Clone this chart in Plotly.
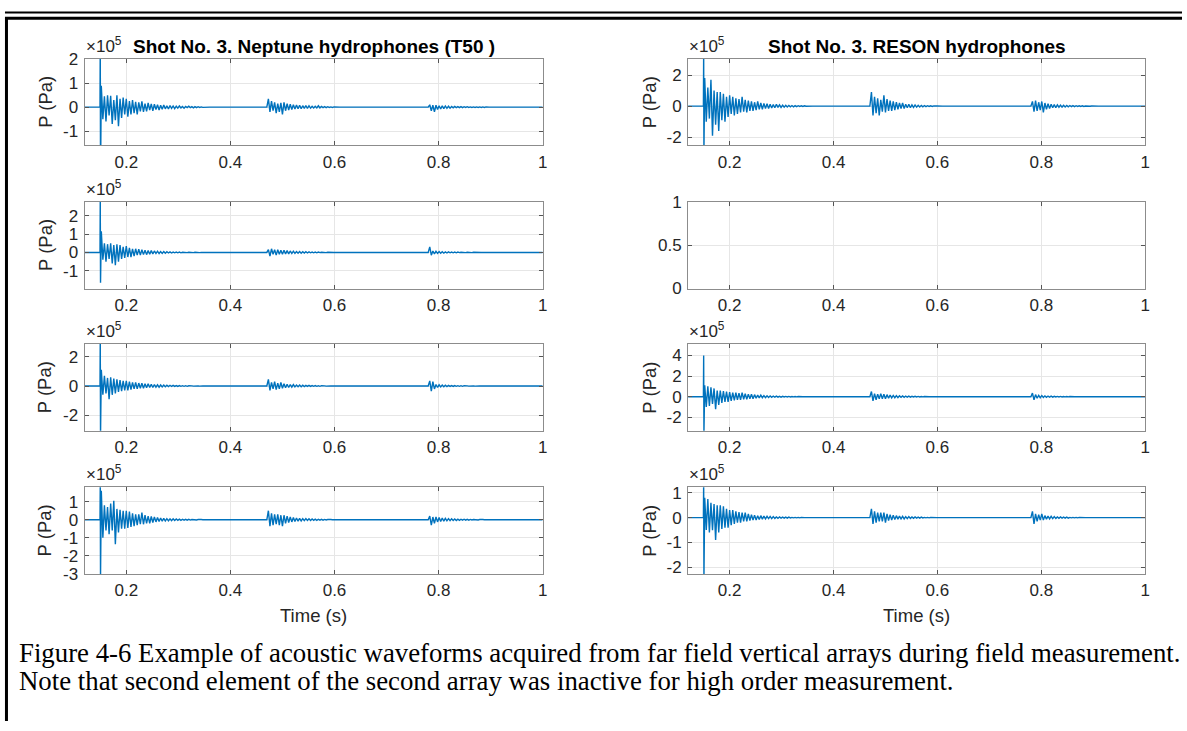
import plotly.graph_objects as go

W, H = 1187, 731

# ---------------- data (pressure in units of 1e5 Pa) ----------------
X_TICKS = [0.2, 0.4, 0.6, 0.8, 1.0]
X_TICK_LABELS = ["0.2", "0.4", "0.6", "0.8", "1"]
X_RANGE = [0.12, 1.0]

B1_START, B2_START, B3_START, DT = 0.152, 0.470, 0.780, 0.003

# Neptune hydrophone 1
L1_SPIKE = [3.0, -3.0]
L1_B1 = [0.9, -0.5, 0.45, -0.6, 0.5, -0.35, 0.48, -0.7, 0.3, -0.55,
         0.5, -0.8, 0.35, -0.45, 0.4, -0.3, 0.35, -0.4, 0.25, -0.3,
         0.3, -0.25, 0.22, -0.3, 0.2, -0.18, 0.24, -0.2, 0.15, -0.18,
         0.18, -0.12, 0.14, -0.15, 0.12, -0.1, 0.1, -0.12, 0.08, -0.09,
         0.09, -0.07, 0.06, -0.08, 0.07, -0.05, 0.05, -0.06, 0.04, -0.04,
         0.05, -0.03, 0.03, -0.04, 0.03, -0.02, 0.04, -0.02, 0.02, -0.03,
         0.02, -0.02, 0.02, -0.01, 0.01, -0.01]
L1_B2 = [0.0, 0.35, -0.2, 0.25, -0.15, 0.2, -0.25, 0.15, -0.2, 0.18,
         -0.3, 0.2, -0.15, 0.15, -0.12, 0.12, -0.1, 0.1, -0.08, 0.09,
         -0.07, 0.08, -0.06, 0.06, -0.05, 0.07, -0.05, 0.06, -0.04, 0.04,
         -0.03, 0.04, -0.03, 0.06, -0.03, 0.03, -0.02, 0.02, -0.02, 0.02,
         -0.01, 0.01, -0.01, 0.01]
L1_B3 = [0.0, 0.1, -0.15, 0.08, -0.2, 0.08, -0.1, 0.06, -0.08, 0.06,
         -0.06, 0.05, -0.05, 0.04, -0.04, 0.03, -0.03, 0.03, -0.02, 0.02,
         -0.02, 0.02, -0.02, 0.02, -0.01, 0.02, -0.01, 0.01, -0.01, 0.01,
         -0.01, 0.01, -0.01, 0.01, -0.01, 0.01, -0.01, 0.01, 0.0, 0.0]

# RESON hydrophone 1
R1_SPIKE = [3.5, -3.0]
R1_B1 = [1.8, -1.0, 1.2, -0.8, 1.7, -1.9, 1.0, -1.2, 0.9, -1.6,
         0.9, -0.9, 0.8, -1.0, 0.6, -0.7, 0.7, -0.5, 0.6, -0.6,
         0.5, -0.5, 0.45, -0.4, 0.6, -0.35, 0.4, -0.4, 0.35, -0.3,
         0.3, -0.3, 0.25, -0.25, 0.3, -0.2, 0.2, -0.2, 0.18, -0.15,
         0.15, -0.15, 0.12, -0.12, 0.1, -0.1, 0.12, -0.08, 0.08, -0.08,
         0.06, -0.06, 0.06, -0.05, 0.05, -0.04, 0.04, -0.04, 0.03, -0.03,
         0.03, -0.02, 0.02, -0.02, 0.02, -0.01]
R1_B2 = [0.0, 0.9, -0.6, 0.6, -0.45, 0.5, -0.6, 0.4, -0.35, 0.7,
         -0.4, 0.45, -0.3, 0.35, -0.3, 0.3, -0.25, 0.25, -0.2, 0.2,
         -0.15, 0.2, -0.15, 0.12, -0.1, 0.12, -0.1, 0.08, -0.08, 0.08,
         -0.06, 0.06, -0.05, 0.05, -0.04, 0.04, -0.03, 0.03, -0.02, 0.02,
         -0.02, 0.02, -0.01, 0.01]
R1_B3 = [0.0, 0.3, -0.35, 0.35, -0.3, 0.25, -0.25, 0.3, -0.4, 0.2,
         -0.2, 0.15, -0.15, 0.12, -0.1, 0.1, -0.1, 0.08, -0.07, 0.07,
         -0.06, 0.05, -0.05, 0.05, -0.04, 0.04, -0.03, 0.03, -0.03, 0.03,
         -0.02, 0.02, -0.02, 0.02, -0.02, 0.01, -0.01, 0.01, -0.01, 0.01]

# Neptune hydrophone 2
L2_SPIKE = [3.0, -1.65]
L2_B1 = [1.15, -0.4, 0.5, -0.5, 0.45, -0.35, 0.5, -0.6, 0.4, -0.7,
         0.45, -0.5, 0.4, -0.35, 0.3, -0.3, 0.35, -0.25, 0.25, -0.25,
         0.2, -0.2, 0.2, -0.15, 0.18, -0.15, 0.15, -0.12, 0.12, -0.12,
         0.1, -0.1, 0.1, -0.08, 0.08, -0.06, 0.07, -0.06, 0.05, -0.05,
         0.05, -0.04, 0.04, -0.03, 0.03, -0.03, 0.02, -0.02, 0.02, -0.02,
         0.02, -0.02, 0.01, -0.01, 0.01, -0.01, 0.01, -0.01, 0.01, -0.01,
         0.01, -0.01, 0.01, -0.01, 0.0, 0.0]
L2_B2 = [0.0, 0.15, -0.2, 0.2, -0.1, 0.15, -0.15, 0.15, -0.1, 0.12,
         -0.1, 0.12, -0.08, 0.1, -0.08, 0.08, -0.06, 0.07, -0.05, 0.05,
         -0.04, 0.05, -0.04, 0.04, -0.03, 0.04, -0.03, 0.03, -0.02, 0.02,
         -0.02, 0.02, -0.02, 0.02, -0.01, 0.01, -0.01, 0.01, -0.01, 0.01,
         0.0, 0.01, 0.0, 0.0]
L2_B3 = [0.0, 0.3, -0.15, 0.08, -0.08, 0.06, -0.05, 0.05, -0.04, 0.04,
         -0.04, 0.03, -0.03, 0.03, -0.02, 0.02, -0.02, 0.02, -0.02, 0.02,
         -0.01, 0.01, -0.01, 0.01, -0.01, 0.01, -0.01, 0.01, -0.01, 0.01,
         0.0, 0.0, 0.0, 0.0, 0.0, 0.0, 0.0, 0.0, 0.0, 0.0]

# Neptune hydrophone 3
L3_SPIKE = [3.5, -3.5]
L3_B1 = [1.1, -0.6, 0.7, -0.5, 0.55, -0.9, 0.6, -0.6, 0.5, -0.5,
         0.45, -0.4, 0.4, -0.35, 0.35, -0.3, 0.35, -0.3, 0.3, -0.25,
         0.25, -0.2, 0.25, -0.2, 0.2, -0.15, 0.2, -0.15, 0.15, -0.12,
         0.15, -0.1, 0.12, -0.1, 0.1, -0.08, 0.08, -0.08, 0.07, -0.06,
         0.06, -0.05, 0.05, -0.04, 0.05, -0.03, 0.04, -0.03, 0.03, -0.03,
         0.03, -0.02, 0.02, -0.02, 0.02, -0.02, 0.02, -0.01, 0.01, -0.01,
         0.01, -0.01, 0.01, -0.01, 0.01, 0.0]
L3_B2 = [0.0, 0.45, -0.3, 0.25, -0.2, 0.3, -0.25, 0.2, -0.2, 0.25,
         -0.15, 0.15, -0.12, 0.12, -0.1, 0.1, -0.08, 0.1, -0.06, 0.06,
         -0.05, 0.06, -0.05, 0.05, -0.04, 0.04, -0.03, 0.04, -0.03, 0.03,
         -0.02, 0.03, -0.02, 0.02, -0.02, 0.02, -0.01, 0.01, -0.01, 0.01,
         -0.01, 0.01, 0.0, 0.0]
L3_B3 = [0.0, 0.35, -0.35, 0.3, -0.2, 0.1, -0.1, 0.08, -0.06, 0.06,
         -0.05, 0.05, -0.04, 0.04, -0.03, 0.03, -0.03, 0.03, -0.02, 0.02,
         -0.02, 0.02, -0.02, 0.02, -0.01, 0.01, -0.01, 0.01, -0.01, 0.01,
         -0.01, 0.01, 0.0, 0.0, 0.0, 0.0, 0.0, 0.0, 0.0, 0.0]

# RESON hydrophone 3
R3_SPIKE = [4.0, -3.6]
R3_B1 = [1.1, -1.0, 1.0, -0.9, 0.9, -0.7, 0.8, -1.2, 0.6, -0.8,
         0.6, -0.6, 0.55, -0.5, 0.5, -0.5, 0.45, -0.4, 0.4, -0.35,
         0.4, -0.3, 0.35, -0.3, 0.4, -0.25, 0.3, -0.25, 0.25, -0.2,
         0.25, -0.2, 0.2, -0.15, 0.15, -0.12, 0.15, -0.1, 0.1, -0.1,
         0.08, -0.08, 0.08, -0.06, 0.06, -0.05, 0.05, -0.05, 0.04, -0.04,
         0.04, -0.03, 0.03, -0.03, 0.03, -0.02, 0.02, -0.02, 0.02, -0.02,
         0.02, -0.01, 0.01, -0.01, 0.01, -0.01]
R3_B2 = [0.0, 0.5, -0.4, 0.3, -0.3, 0.25, -0.2, 0.3, -0.2, 0.25,
         -0.2, 0.2, -0.15, 0.15, -0.12, 0.12, -0.1, 0.1, -0.1, 0.08,
         -0.06, 0.07, -0.06, 0.06, -0.05, 0.05, -0.04, 0.04, -0.03, 0.04,
         -0.03, 0.03, -0.02, 0.02, -0.02, 0.02, -0.01, 0.01, -0.01, 0.01,
         -0.01, 0.01, 0.0, 0.0]
R3_B3 = [0.0, 0.35, -0.3, 0.2, -0.15, 0.12, -0.1, 0.1, -0.08, 0.08,
         -0.06, 0.06, -0.05, 0.05, -0.04, 0.04, -0.03, 0.03, -0.03, 0.03,
         -0.02, 0.02, -0.02, 0.02, -0.02, 0.02, -0.01, 0.01, -0.01, 0.01,
         -0.01, 0.01, -0.01, 0.01, 0.0, 0.0, 0.0, 0.0, 0.0, 0.0]

# Neptune hydrophone 4
L4_SPIKE = [2.0, -3.3]
L4_B1 = [1.6, -1.0, 0.8, -0.6, 0.7, -0.8, 0.9, -0.6, 1.05, -1.35,
         0.6, -0.7, 0.55, -0.5, 0.5, -0.5, 0.5, -0.45, 0.45, -0.4,
         0.35, -0.35, 0.3, -0.3, 0.3, -0.25, 0.4, -0.25, 0.25, -0.2,
         0.2, -0.2, 0.18, -0.15, 0.15, -0.12, 0.12, -0.1, 0.1, -0.08,
         0.08, -0.07, 0.06, -0.06, 0.05, -0.05, 0.05, -0.04, 0.04, -0.03,
         0.03, -0.03, 0.03, -0.02, 0.02, -0.02, 0.02, -0.02, 0.01, -0.01,
         0.01, -0.01, 0.01, -0.01, 0.01, 0.0]
L4_B2 = [0.0, 0.5, -0.35, 0.35, -0.3, 0.3, -0.25, 0.3, -0.3, 0.25,
         -0.35, 0.25, -0.2, 0.2, -0.15, 0.15, -0.12, 0.12, -0.1, 0.1,
         -0.08, 0.08, -0.07, 0.06, -0.05, 0.06, -0.04, 0.05, -0.04, 0.04,
         -0.03, 0.03, -0.03, 0.03, -0.02, 0.02, -0.02, 0.02, -0.01, 0.01,
         -0.01, 0.01, 0.0, 0.0]
L4_B3 = [0.0, 0.2, -0.3, 0.15, -0.2, 0.15, -0.12, 0.12, -0.1, 0.1,
         -0.08, 0.08, -0.06, 0.06, -0.05, 0.05, -0.04, 0.04, -0.04, 0.03,
         -0.03, 0.03, -0.02, 0.03, -0.02, 0.02, -0.02, 0.02, -0.01, 0.01,
         -0.01, 0.01, -0.01, 0.01, -0.01, 0.01, 0.0, 0.0, 0.0, 0.0]

# RESON hydrophone 4
R4_SPIKE = [1.5, -2.5]
R4_B1 = [0.8, -0.5, 0.75, -0.6, 0.6, -0.5, 0.55, -0.9, 0.5, -0.6,
         0.5, -0.45, 0.45, -0.4, 0.35, -0.4, 0.3, -0.3, 0.3, -0.25,
         0.25, -0.2, 0.22, -0.2, 0.2, -0.15, 0.2, -0.15, 0.15, -0.12,
         0.12, -0.1, 0.1, -0.1, 0.08, -0.08, 0.08, -0.06, 0.06, -0.05,
         0.05, -0.04, 0.05, -0.04, 0.04, -0.03, 0.03, -0.03, 0.03, -0.02,
         0.02, -0.02, 0.02, -0.02, 0.02, -0.01, 0.01, -0.01, 0.01, -0.01,
         0.01, -0.01, 0.01, -0.01, 0.0, 0.0]
R4_B2 = [0.0, 0.35, -0.25, 0.25, -0.2, 0.2, -0.15, 0.2, -0.15, 0.2,
         -0.2, 0.15, -0.12, 0.12, -0.1, 0.1, -0.08, 0.08, -0.06, 0.06,
         -0.05, 0.05, -0.05, 0.04, -0.04, 0.04, -0.03, 0.03, -0.03, 0.03,
         -0.02, 0.02, -0.02, 0.02, -0.01, 0.01, -0.01, 0.01, -0.01, 0.01,
         0.0, 0.0, 0.0, 0.0]
R4_B3 = [0.0, 0.25, -0.25, 0.15, -0.15, 0.12, -0.1, 0.15, -0.1, 0.08,
         -0.06, 0.06, -0.05, 0.05, -0.04, 0.04, -0.03, 0.03, -0.03, 0.03,
         -0.02, 0.02, -0.02, 0.02, -0.02, 0.01, -0.01, 0.01, -0.01, 0.01,
         -0.01, 0.01, 0.0, 0.0, 0.0, 0.0, 0.0, 0.0, 0.0, 0.0]

# y-axis settings per panel
Y_RANGES = {
    "L1": [-1.6, 2.03], "R1": [-2.52, 3.05],
    "L2": [-1.97, 2.76], "R2": [0, 1],
    "L3": [-3.05, 2.86], "R3": [-3.3, 5.1],
    "L4": [-3.0, 1.8], "R4": [-2.26, 1.22],
}
Y_TICKS = {
    "L1": [-1, 0, 1, 2], "R1": [-2, 0, 2],
    "L2": [-1, 0, 1, 2], "R2": [0, 0.5, 1],
    "L3": [-2, 0, 2], "R3": [-2, 0, 2, 4],
    "L4": [-3, -2, -1, 0, 1], "R4": [-2, -1, 0, 1],
}
TITLES = {"L1": "Shot No. 3. Neptune hydrophones (T50 )",
          "R1": "Shot No. 3. RESON hydrophones"}
CAPTION_1 = "Figure 4-6 Example of acoustic waveforms acquired from far field vertical arrays during field measurement."
CAPTION_2 = "Note that second element of the second array was inactive for high order measurement."


def build(spike, b1, b2, b3):
    t = [X_RANGE[0], 0.1495, 0.1500, 0.1505]
    y = [0.0, 0.0, spike[0], spike[1]]
    t += [B1_START + DT * i for i in range(len(b1))]
    y += b1
    t += [0.36, 0.469]
    y += [0.0, 0.0]
    t += [B2_START + DT * i for i in range(len(b2))]
    y += b2
    t += [0.61, 0.779]
    y += [0.0, 0.0]
    t += [B3_START + DT * i for i in range(len(b3))]
    y += b3
    t += [0.91, 1.0]
    y += [0.0, 0.0]
    return t, y


def fmt_tick(v):
    return "%g" % v  # plain hyphen-minus like MATLAB


SERIES = {
    "L1": (L1_SPIKE, L1_B1, L1_B2, L1_B3),
    "R1": (R1_SPIKE, R1_B1, R1_B2, R1_B3),
    "L2": (L2_SPIKE, L2_B1, L2_B2, L2_B3),
    "R2": None,
    "L3": (L3_SPIKE, L3_B1, L3_B2, L3_B3),
    "R3": (R3_SPIKE, R3_B1, R3_B2, R3_B3),
    "L4": (L4_SPIKE, L4_B1, L4_B2, L4_B3),
    "R4": (R4_SPIKE, R4_B1, R4_B2, R4_B3),
}

# ---------------- layout geometry (pixels) ----------------
COL_PX = [(85, 545), (691, 1150)]
ROW_PX = [(51, 140), (198, 287), (344, 433), (491, 580)]
YLABEL_X = [45, 652]

FONT = "Liberation Sans, Arial, Helvetica, sans-serif"
TXT = "#262626"
BLUE = "#0072BD"
TICK_SIZE = 17
LABEL_SIZE = 18.5

fig = go.Figure()
layout = dict(
    width=W, height=H,
    margin=dict(l=0, r=0, t=0, b=0),
    paper_bgcolor="white", plot_bgcolor="white",
    showlegend=False,
    font=dict(family=FONT, color=TXT, size=TICK_SIZE),
)
annotations = []
shapes = []

order = ["L1", "R1", "L2", "R2", "L3", "R3", "L4", "R4"]
for k, name in enumerate(order, start=1):
    row, col = divmod(k - 1, 2)
    x0, x1 = COL_PX[col]
    top, bot = ROW_PX[row]
    xd = [x0 / W, x1 / W]
    yd = [1 - bot / H, 1 - top / H]
    sfx = "" if k == 1 else str(k)
    layout["xaxis" + sfx] = dict(
        domain=xd, anchor="y" + sfx, range=X_RANGE,
        tickvals=X_TICKS, ticktext=X_TICK_LABELS,
        showline=True, linecolor="#8c8c8c", linewidth=1, mirror="ticks",
        ticks="inside", ticklen=4, tickcolor="#555555",
        showgrid=True, gridcolor="#e6e6e6", gridwidth=1, zeroline=False,
        tickfont=dict(size=TICK_SIZE, color=TXT, family=FONT), ticklabelstandoff=1,
    )
    layout["yaxis" + sfx] = dict(
        domain=yd, anchor="x" + sfx, range=Y_RANGES[name],
        tickvals=Y_TICKS[name], ticktext=[fmt_tick(v) for v in Y_TICKS[name]],
        showline=True, linecolor="#8c8c8c", linewidth=1, mirror="ticks",
        ticks="inside", ticklen=4, tickcolor="#555555",
        showgrid=True, gridcolor="#e6e6e6", gridwidth=1, zeroline=False,
        tickfont=dict(size=TICK_SIZE, color=TXT, family=FONT), ticklabelstandoff=2,
    )
    if SERIES[name] is not None:
        t, y = build(*SERIES[name])
        fig.add_trace(go.Scatter(x=t, y=y, mode="lines",
                                 line=dict(color=BLUE, width=1.4),
                                 xaxis="x" + sfx, yaxis="y" + sfx,
                                 hoverinfo="skip"))
        annotations.append(dict(
            text="\u00d710<sup>5</sup>", xref="paper", yref="paper",
            x=(x0 - 1) / W, y=1 - (top - 1) / H, xanchor="left", yanchor="bottom",
            showarrow=False, font=dict(size=TICK_SIZE, color=TXT, family=FONT)))
        annotations.append(dict(
            text="P (Pa)", xref="paper", yref="paper", textangle=-90,
            x=YLABEL_X[col] / W, y=1 - (top + bot) / 2 / H,
            xanchor="center", yanchor="middle", showarrow=False,
            font=dict(size=LABEL_SIZE, color=TXT, family=FONT)))
    else:
        fig.add_trace(go.Scatter(x=[], y=[], mode="lines",
                                 xaxis="x" + sfx, yaxis="y" + sfx))
    if name in TITLES:
        annotations.append(dict(
            text="<b>" + TITLES[name] + "</b>", xref="paper", yref="paper",
            x=(x0 + x1) / 2 / W, y=1 - 39 / H, xanchor="center", yanchor="middle",
            showarrow=False, font=dict(size=19, color="#000000", family=FONT)))
    if row == 3:
        annotations.append(dict(
            text="Time (s)", xref="paper", yref="paper",
            x=(x0 + x1) / 2 / W, y=1 - 623 / H, xanchor="center", yanchor="middle",
            showarrow=False, font=dict(size=LABEL_SIZE, color=TXT, family=FONT)))

SERIF = "Liberation Serif, Times New Roman, serif"
for txt, ypx in [(CAPTION_1, 661), (CAPTION_2, 690)]:
    annotations.append(dict(
        text=txt, xref="paper", yref="paper", x=17 / W, y=1 - ypx / H,
        xanchor="left", yanchor="middle", showarrow=False,
        font=dict(size=26.8, color="#000000", family=SERIF)))

# page frame lines
def px_line(xa, ya, xb, yb, w):
    return dict(type="line", xref="paper", yref="paper",
                x0=xa / W, y0=1 - ya / H, x1=xb / W, y1=1 - yb / H,
                line=dict(color="black", width=w))

shapes.append(px_line(5, 3.5, W, 3.5, 2))
shapes.append(px_line(5, 9.5, W, 9.5, 3))
shapes.append(px_line(6.5, 9, 6.5, H, 3))

layout["annotations"] = annotations
layout["shapes"] = shapes
fig.update_layout(**layout)
fig.write_html("out.html")
